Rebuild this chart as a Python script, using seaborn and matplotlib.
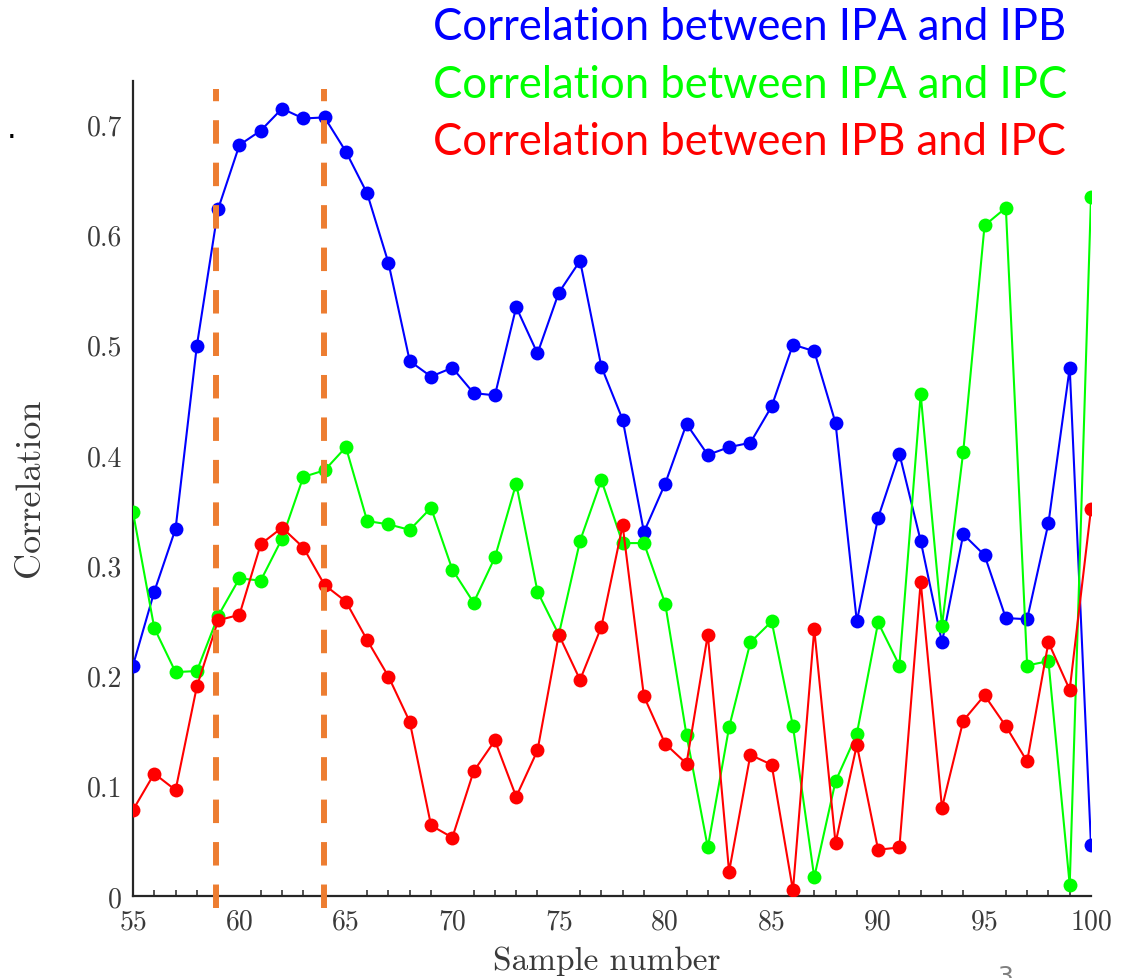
import numpy as np
import pandas as pd
import matplotlib
matplotlib.use("Agg")
import matplotlib.pyplot as plt
import seaborn as sns

samples = list(range(55, 101))
ipa_ipb = [0.209, 0.276, 0.333, 0.499, 0.623, 0.681, 0.694, 0.714, 0.705, 0.706,
           0.675, 0.637, 0.574, 0.485, 0.471, 0.479, 0.456, 0.454, 0.534, 0.492,
           0.547, 0.576, 0.480, 0.432, 0.330, 0.374, 0.428, 0.400, 0.407, 0.411,
           0.444, 0.500, 0.494, 0.429, 0.249, 0.343, 0.401, 0.322, 0.230, 0.328,
           0.309, 0.252, 0.251, 0.338, 0.479, 0.046]
ipa_ipc = [0.348, 0.243, 0.203, 0.204, 0.254, 0.288, 0.286, 0.324, 0.380, 0.386,
           0.407, 0.340, 0.337, 0.332, 0.352, 0.296, 0.266, 0.307, 0.374, 0.276,
           0.237, 0.322, 0.377, 0.320, 0.320, 0.265, 0.146, 0.044, 0.153, 0.230,
           0.249, 0.154, 0.017, 0.104, 0.147, 0.248, 0.209, 0.455, 0.245, 0.403,
           0.608, 0.624, 0.209, 0.213, 0.010, 0.634]
ipb_ipc = [0.078, 0.111, 0.096, 0.190, 0.250, 0.255, 0.319, 0.334, 0.316, 0.282,
           0.267, 0.232, 0.199, 0.158, 0.064, 0.053, 0.113, 0.141, 0.090, 0.132,
           0.237, 0.196, 0.244, 0.336, 0.181, 0.138, 0.120, 0.237, 0.022, 0.128,
           0.119, 0.005, 0.242, 0.048, 0.137, 0.042, 0.044, 0.285, 0.080, 0.159,
           0.182, 0.154, 0.122, 0.230, 0.187, 0.351]
series_names = ["Correlation between IPA and IPB",
                "Correlation between IPA and IPC",
                "Correlation between IPB and IPC"]
series_colors = ["#0000FF", "#00FF00", "#FF0000"]
window_marks = [58.9, 63.95]
x_ticks = [55, 60, 65, 70, 75, 80, 85, 90, 95, 100]
y_ticks = [0, 0.1, 0.2, 0.3, 0.4, 0.5, 0.6, 0.7]
y_tick_labels = ["0", "0.1", "0.2", "0.3", "0.4", "0.5", "0.6", "0.7"]

df = pd.concat([
    pd.DataFrame({"Sample": samples, "Correlation": vals, "Series": name})
    for name, vals in zip(series_names, [ipa_ipb, ipa_ipc, ipb_ipc])
])

sns.set_style("white")
plt.rcParams["font.family"] = "serif"
plt.rcParams["font.serif"] = ["cmr10"]
plt.rcParams["axes.formatter.use_mathtext"] = True

W, H = 1132, 979
fig = plt.figure(figsize=(W / 100, H / 100), dpi=100)
ax = fig.add_axes([133 / W, 1 - 897 / H, (1091 - 133) / W, (897 - 82) / H])

sns.lineplot(data=df, x="Sample", y="Correlation", hue="Series",
             palette=dict(zip(series_names, series_colors)), marker="o",
             markersize=10, markeredgewidth=0, linewidth=1.5, legend=False,
             ax=ax, zorder=3)

for xv in window_marks:
    ax.plot([xv, xv], [-0.0109, 0.732], color="#ED7D31", linewidth=4.3,
            linestyle=(0, (3.93, 3.18)), clip_on=False, zorder=4,
            solid_capstyle="butt", dash_capstyle="butt")

ax.set_xlim(55, 100)
ax.set_ylim(0, 0.739)
ax.set_xticks(x_ticks)
ax.set_xticklabels([str(v) for v in x_ticks])
ax.set_xticks(samples, minor=True)
ax.set_yticks(y_ticks)
ax.set_yticklabels(y_tick_labels)
for s in ["top", "right"]:
    ax.spines[s].set_visible(False)
for s in ["left", "bottom"]:
    ax.spines[s].set_linewidth(1.6)
    ax.spines[s].set_color("#262626")
ax.tick_params(axis="both", which="major", direction="in", length=8, width=1.3,
               color="#262626", labelsize=20, labelcolor="#3a3a3a")
ax.tick_params(axis="x", which="major", pad=9)
ax.tick_params(axis="y", which="major", pad=8)
ax.tick_params(axis="x", which="minor", direction="in", length=4.5, width=1.1,
               color="#262626", bottom=True)
ax.set_xlabel("Sample number", fontsize=24, color="#3a3a3a")
ax.set_ylabel("Correlation", fontsize=26, color="#3a3a3a")
ax.xaxis.set_label_coords((607 - 133) / 958, (897 - 946) / 815)
ax.yaxis.set_label_coords((46 - 133) / 958, (897 - 488) / 815)

for i, (name, col) in enumerate(zip(series_names, series_colors)):
    fig.text(433 / W, 1 - (40 + i * 57.5) / H, name, color=col, fontsize=31.4,
             family="Lato", ha="left", va="baseline")

fig.text(12 / W, 1 - 138 / H, ".", fontsize=22, color="black", family="DejaVu Sans",
         ha="center", va="baseline")
fig.text(1005 / W, 1 - 965 / H, "3", fontsize=18, color="#7f7f7f", family="DejaVu Sans",
         ha="center", va="top")

fig.savefig("out.png", dpi=100)
